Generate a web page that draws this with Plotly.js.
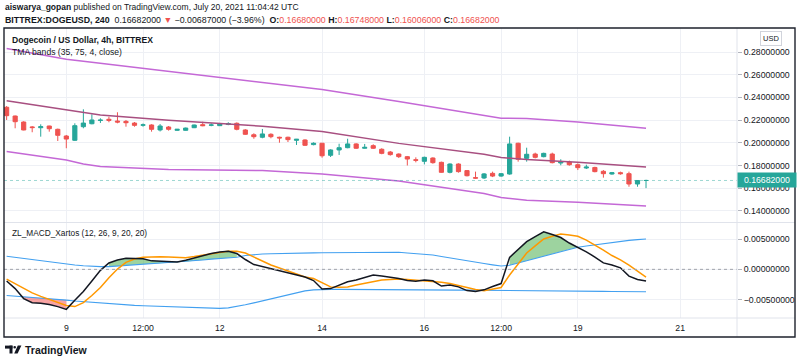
<!DOCTYPE html>
<html><head><meta charset="utf-8">
<script src="https://cdn.plot.ly/plotly-3.0.1.min.js"></script>
<style>html,body{margin:0;padding:0;background:#fff;}#chart{width:800px;height:362px;}</style>
</head><body><div id="chart"></div>
<script>
// ---------- DATA ----------
const times = [
'2021-07-07 20:00',
'2021-07-08 00:00','2021-07-08 04:00','2021-07-08 08:00','2021-07-08 12:00','2021-07-08 16:00','2021-07-08 20:00',
'2021-07-09 00:00','2021-07-09 04:00','2021-07-09 08:00','2021-07-09 12:00','2021-07-09 16:00','2021-07-09 20:00',
'2021-07-10 00:00','2021-07-10 04:00','2021-07-10 08:00','2021-07-10 12:00','2021-07-10 16:00','2021-07-10 20:00',
'2021-07-11 00:00','2021-07-11 04:00','2021-07-11 08:00','2021-07-11 12:00','2021-07-11 16:00','2021-07-11 20:00',
'2021-07-12 00:00','2021-07-12 04:00','2021-07-12 08:00','2021-07-12 12:00','2021-07-12 16:00','2021-07-12 20:00',
'2021-07-13 00:00','2021-07-13 04:00','2021-07-13 08:00','2021-07-13 12:00','2021-07-13 16:00','2021-07-13 20:00',
'2021-07-14 00:00','2021-07-14 04:00','2021-07-14 08:00','2021-07-14 12:00','2021-07-14 16:00','2021-07-14 20:00',
'2021-07-15 00:00','2021-07-15 04:00','2021-07-15 08:00','2021-07-15 12:00','2021-07-15 16:00','2021-07-15 20:00',
'2021-07-16 00:00','2021-07-16 04:00','2021-07-16 08:00','2021-07-16 12:00','2021-07-16 16:00','2021-07-16 20:00',
'2021-07-17 00:00','2021-07-17 04:00','2021-07-17 08:00','2021-07-17 12:00','2021-07-17 16:00','2021-07-17 20:00',
'2021-07-18 00:00','2021-07-18 04:00','2021-07-18 08:00','2021-07-18 12:00','2021-07-18 16:00','2021-07-18 20:00',
'2021-07-19 00:00','2021-07-19 04:00','2021-07-19 08:00','2021-07-19 12:00','2021-07-19 16:00','2021-07-19 20:00',
'2021-07-20 00:00','2021-07-20 04:00','2021-07-20 08:00'];

const openP = [0.2313,0.2236,0.2183,0.2140,0.2133,0.2148,0.2119,0.2060,0.2022,0.2142,
0.2168,0.2197,0.2207,0.2192,0.2189,0.2174,0.2155,0.2157,0.2113,0.2139,
0.2110,0.2110,0.2133,0.2160,0.2155,0.2151,0.2161,0.2172,0.2113,0.2071,
0.2049,0.2075,0.2049,0.2049,0.2022,0.2025,0.1984,0.1996,0.1890,0.1937,
0.1957,0.1990,0.1952,0.1975,0.1943,0.1919,0.1901,0.1878,0.1851,0.1837,
0.1866,0.1828,0.1740,0.1813,0.1755,0.1693,0.1690,0.1731,0.1707,0.1725,
0.1996,0.1863,0.1901,0.1878,0.1901,0.1822,0.1831,0.1807,0.1778,0.1783,
0.1749,0.1725,0.1737,0.1728,0.1637,0.16680];
const highP = [0.2324,0.2240,0.2190,0.2148,0.2163,0.2150,0.2125,0.2069,0.2172,0.2295,
0.2251,0.2216,0.2230,0.2269,0.2201,0.2183,0.2170,0.2163,0.2165,0.2148,
0.2122,0.2134,0.2160,0.2186,0.2172,0.2175,0.2181,0.2180,0.2120,0.2084,
0.2122,0.2084,0.2054,0.2054,0.2034,0.2031,0.2004,0.1999,0.1943,0.1992,
0.2036,0.1996,0.1990,0.1987,0.1952,0.1928,0.1907,0.1884,0.1872,0.1878,
0.1872,0.1834,0.1819,0.1819,0.1760,0.1746,0.1734,0.1746,0.1734,0.2054,
0.2001,0.1957,0.1913,0.1913,0.1913,0.1855,0.1843,0.1819,0.1807,0.1789,
0.1760,0.1743,0.1746,0.1746,0.1672,0.16748];
const lowP = [0.2201,0.2128,0.2110,0.2093,0.2054,0.2098,0.2016,0.1952,0.2016,0.2128,
0.2163,0.2175,0.2181,0.2172,0.2142,0.2142,0.2142,0.2098,0.2100,0.2107,
0.2105,0.2107,0.2130,0.2146,0.2146,0.2148,0.2155,0.2110,0.2070,0.2036,
0.2040,0.2040,0.2001,0.2007,0.1981,0.1972,0.1978,0.1869,0.1875,0.1893,
0.1952,0.1946,0.1949,0.1946,0.1899,0.1887,0.1866,0.1800,0.1828,0.1810,
0.1816,0.1737,0.1731,0.1737,0.1704,0.1684,0.1681,0.1698,0.1701,0.1719,
0.1834,0.1834,0.1863,0.1872,0.1819,0.1802,0.1798,0.1760,0.1769,0.1740,
0.1693,0.1719,0.1719,0.1613,0.1613,0.16006];
const closeP = [0.2239,0.2186,0.2113,0.2134,0.2142,0.2124,0.2066,0.2033,0.2151,0.2174,
0.2201,0.2200,0.2198,0.2183,0.2177,0.2154,0.2158,0.2119,0.2148,0.2119,
0.2119,0.2130,0.2157,0.2151,0.2157,0.2169,0.2169,0.2119,0.2075,0.2054,
0.2078,0.2054,0.2043,0.2028,0.2031,0.1978,0.1996,0.1886,0.1937,0.1957,
0.1990,0.1952,0.1960,0.1952,0.1907,0.1896,0.1878,0.1857,0.1846,0.1872,
0.1825,0.1740,0.1813,0.1746,0.1710,0.1689,0.1726,0.1707,0.1728,0.1990,
0.1855,0.1899,0.1872,0.1907,0.1825,0.1831,0.1807,0.1781,0.1786,0.1746,
0.1728,0.1737,0.1728,0.1637,0.1668,0.16682];

const bandTimes = ['2021-07-07 20:00','2021-07-09 00:00','2021-07-09 08:00','2021-07-09 16:00','2021-07-11 00:00',
'2021-07-12 20:00','2021-07-14 00:00','2021-07-15 12:00','2021-07-17 04:00','2021-07-17 12:00',
'2021-07-18 00:00','2021-07-19 00:00','2021-07-20 08:00'];
const tmaUpper = [0.2830,0.2736,0.2719,0.2701,0.2630,0.2530,0.2470,0.2364,0.2241,0.2216,0.2214,0.2183,0.2128];
const tmaMid   = [0.2371,0.2295,0.2271,0.2245,0.2198,0.2146,0.2100,0.1995,0.1900,0.1870,0.1852,0.1828,0.1787];
const tmaLower = [0.1923,0.1849,0.1813,0.1791,0.1765,0.1756,0.1725,0.1664,0.1553,0.1518,0.1494,0.1476,0.1443];

const macdLine = [-0.00193,-0.00317,-0.00482,-0.00551,-0.00559,-0.00578,-0.00614,-0.00660,-0.00510,-0.00366,
-0.00193,-0.00017,0.00104,0.00153,0.00182,0.00183,0.00173,0.00140,0.00132,0.00122,
0.00122,0.00150,0.00190,0.00229,0.00261,0.00285,0.00299,0.00261,0.00162,0.00079,
0.00046,0.00013,-0.00028,-0.00061,-0.00086,-0.00127,-0.00185,-0.00325,-0.00317,-0.00267,
-0.00205,-0.00177,-0.00140,-0.00094,-0.00111,-0.00130,-0.00152,-0.00185,-0.00198,-0.00177,
-0.00188,-0.00276,-0.00259,-0.00289,-0.00350,-0.00366,-0.00338,-0.00284,-0.00234,0.00198,
0.00335,0.00457,0.00541,0.00619,0.00574,0.00525,0.00434,0.00368,0.00289,0.00203,
0.00107,0.00071,0.00025,-0.00111,-0.00168,-0.00193];
const signalLine = [-0.00160,-0.00233,-0.00309,-0.00388,-0.00446,-0.00498,-0.00548,-0.00597,-0.00614,-0.00548,
-0.00432,-0.00300,-0.00140,0.00005,0.00116,0.00170,0.00200,0.00206,0.00206,0.00203,
0.00196,0.00191,0.00210,0.00236,0.00259,0.00277,0.00299,0.00299,0.00269,0.00203,
0.00132,0.00071,0.00021,-0.00031,-0.00078,-0.00127,-0.00152,-0.00221,-0.00289,-0.00297,
-0.00292,-0.00259,-0.00229,-0.00200,-0.00177,-0.00168,-0.00160,-0.00168,-0.00178,-0.00185,
-0.00193,-0.00213,-0.00233,-0.00269,-0.00305,-0.00332,-0.00351,-0.00327,-0.00300,-0.00094,
0.00096,0.00269,0.00388,0.00500,0.00545,0.00582,0.00566,0.00545,0.00483,0.00406,
0.00318,0.00228,0.00157,0.00071,-0.00028,-0.00127];
const macdUpper = [0.00216,0.00198,0.00177,0.00157,0.00137,0.00117,0.00101,0.00084,0.00071,0.00059,
0.00050,0.00045,0.00045,0.00054,0.00068,0.00081,0.00090,0.00100,0.00108,0.00114,
0.00117,0.00125,0.00140,0.00155,0.00168,0.00180,0.00190,0.00200,0.00228,0.00244,
0.00252,0.00257,0.00262,0.00266,0.00269,0.00271,0.00272,0.00274,0.00276,0.00277,
0.00279,0.00282,0.00285,0.00287,0.00289,0.00290,0.00282,0.00269,0.00259,0.00248,
0.00236,0.00211,0.00186,0.00163,0.00142,0.00120,0.00097,0.00074,0.00054,0.00068,
0.00106,0.00144,0.00180,0.00219,0.00256,0.00294,0.00330,0.00365,0.00384,0.00404,
0.00424,0.00442,0.00460,0.00477,0.00490,0.00500];
const macdLower = [-0.00431,-0.00441,-0.00450,-0.00460,-0.00472,-0.00483,-0.00495,-0.00507,-0.00522,-0.00533,
-0.00546,-0.00559,-0.00571,-0.00579,-0.00587,-0.00594,-0.00601,-0.00607,-0.00612,-0.00619,
-0.00624,-0.00629,-0.00634,-0.00639,-0.00642,-0.00644,-0.00635,-0.00615,-0.00584,-0.00553,
-0.00520,-0.00485,-0.00450,-0.00413,-0.00380,-0.00355,-0.00338,-0.00330,-0.00330,-0.00330,
-0.00330,-0.00330,-0.00330,-0.00330,-0.00330,-0.00330,-0.00330,-0.00332,-0.00333,-0.00335,
-0.00337,-0.00338,-0.00340,-0.00342,-0.00343,-0.00345,-0.00347,-0.00348,-0.00350,-0.00351,
-0.00352,-0.00353,-0.00354,-0.00355,-0.00356,-0.00357,-0.00358,-0.00360,-0.00361,-0.00362,
-0.00363,-0.00364,-0.00366,-0.00367,-0.00369,-0.00370];

const xTickVals = ['2021-07-09 00:00','2021-07-10 12:00','2021-07-12 00:00','2021-07-14 00:00',
                   '2021-07-16 00:00','2021-07-17 12:00','2021-07-19 00:00','2021-07-21 00:00'];
const xTickText = ['9','12:00','12','14','16','12:00','19','21'];
const priceTicks = [0.14,0.16,0.18,0.20,0.22,0.24,0.26,0.28];
const macdTicks = [-0.005,0,0.005];
const changeAbs = -0.00687, changePct = -3.96;

// ---------- BUILD ----------
const UP = '#26a69a', DN = '#ef5350', INK = '#131722';
const FONT = 'Liberation Sans, Arial, sans-serif';
const n = times.length;
const last = n - 1;
// pixel -> paper helpers (plot area: x 4..737, y 28..318)
const px = x => (x - 4) / 733;
const py = y => (318 - y) / 290;
const f8 = v => (v < 0 ? '\u2212' : '') + Math.abs(v).toFixed(8);

const traces = [];
traces.push({type:'scatter', mode:'lines', x:bandTimes, y:tmaUpper, xaxis:'x', yaxis:'y',
  line:{color:'#c468d6', width:1.5}, hoverinfo:'skip'});
traces.push({type:'scatter', mode:'lines', x:bandTimes, y:tmaLower, xaxis:'x', yaxis:'y',
  line:{color:'#c468d6', width:1.5}, hoverinfo:'skip'});
traces.push({type:'scatter', mode:'lines', x:bandTimes, y:tmaMid, xaxis:'x', yaxis:'y',
  line:{color:'#a84f80', width:1.5}, hoverinfo:'skip'});
traces.push({type:'candlestick', x:times, open:openP, high:highP, low:lowP, close:closeP,
  xaxis:'x', yaxis:'y', whiskerwidth:0, hoverinfo:'skip',
  increasing:{line:{color:UP, width:1}, fillcolor:UP},
  decreasing:{line:{color:DN, width:1}, fillcolor:DN}});

function runs(cond){
  const out=[]; let s=-1;
  for(let i=0;i<n;i++){
    if(cond(i)){ if(s<0) s=i; }
    else if(s>=0){ out.push([s,i-1]); s=-1; }
  }
  if(s>=0) out.push([s,n-1]);
  return out.filter(r => r[1] > r[0]);
}
function fillTrace(a,b,band,color){
  const xs = times.slice(a,b+1), ys = macdLine.slice(a,b+1);
  return {type:'scatter', mode:'lines', xaxis:'x', yaxis:'y2', hoverinfo:'skip',
    x: xs.concat(xs.slice().reverse()),
    y: ys.concat(band.slice(a,b+1).reverse()),
    fill:'toself', fillcolor:color, line:{width:0}};
}
runs(i => macdLine[i] > macdUpper[i]).forEach(r => traces.push(fillTrace(r[0],r[1],macdUpper,'rgba(76,175,80,0.55)')));
runs(i => macdLine[i] < macdLower[i]).forEach(r => traces.push(fillTrace(r[0],r[1],macdLower,'rgba(242,72,72,0.5)')));

traces.push({type:'scatter', mode:'lines', x:times, y:macdUpper, xaxis:'x', yaxis:'y2',
  line:{color:'#42a0f0', width:1.1}, hoverinfo:'skip'});
traces.push({type:'scatter', mode:'lines', x:times, y:macdLower, xaxis:'x', yaxis:'y2',
  line:{color:'#42a0f0', width:1.1}, hoverinfo:'skip'});
traces.push({type:'scatter', mode:'lines', x:times, y:signalLine, xaxis:'x', yaxis:'y2',
  line:{color:'#ff9800', width:1.5}, hoverinfo:'skip'});
traces.push({type:'scatter', mode:'lines', x:times, y:macdLine, xaxis:'x', yaxis:'y2',
  line:{color:INK, width:1.5}, hoverinfo:'skip'});

const gridC = '#eef0f5';
const tickFont = {family:FONT, size:8.7, color:INK};

const shapes = [
  {type:'line', xref:'paper', yref:'y', x0:0, x1:1, y0:closeP[last], y1:closeP[last],
   line:{color:'rgba(38,166,154,0.45)', width:1, dash:'3px,3px'}},
  {type:'line', xref:'paper', yref:'y2', x0:0, x1:1, y0:0, y1:0,
   line:{color:'#a0a3ab', width:1, dash:'3px,3px'}},
  {type:'line', xref:'paper', yref:'paper', x0:px(737), x1:px(737), y0:py(337), y1:py(28), line:{color:'#e0e3eb', width:1}},
  {type:'line', xref:'paper', yref:'paper', x0:px(4), x1:px(795), y0:py(222.5), y1:py(222.5), line:{color:'#e0e3eb', width:1}},
  {type:'line', xref:'paper', yref:'paper', x0:px(4), x1:px(795), y0:py(318), y1:py(318), line:{color:'#e0e3eb', width:1}},
  {type:'rect', xref:'paper', yref:'paper', x0:px(4), x1:px(795), y0:py(337), y1:py(28), line:{color:'#1e222d', width:1.4}},
  {type:'rect', xref:'paper', yref:'paper', x0:px(5), x1:px(12.5), y0:py(348.6), y1:py(345.6), fillcolor:INK, line:{width:0}},
  {type:'rect', xref:'paper', yref:'paper', x0:px(9.5), x1:px(12.5), y0:py(353.5), y1:py(345.6), fillcolor:INK, line:{width:0}},
  {type:'circle', xref:'paper', yref:'paper', x0:px(13.4), x1:px(16.0), y0:py(348.6), y1:py(346.0), fillcolor:INK, line:{width:0}},
  {type:'path', xref:'paper', yref:'paper', fillcolor:INK, line:{width:0},
   path:`M ${px(17.8)} ${py(345.6)} L ${px(21.4)} ${py(345.6)} L ${px(17.6)} ${py(353.5)} L ${px(14.2)} ${py(353.5)} Z`}
];

const red = s => `<span style="color:${DN}">${s}</span>`;
const annotations = [
  {xref:'paper', yref:'paper', x:px(3), y:py(7.5), xanchor:'left', yanchor:'middle', showarrow:false,
   font:{family:FONT, size:8.5, color:INK},
   text:'<b>aiswarya_gopan</b> published on TradingView.com, July 20, 2021 11:04:42 UTC'},
  {xref:'paper', yref:'paper', x:px(3), y:py(20), xanchor:'left', yanchor:'middle', showarrow:false,
   font:{family:FONT, size:8.8, color:INK},
   text:`<b>BITTREX:DOGEUSD, 240</b>  ${closeP[last].toFixed(8)} ${red('\u25BC')} ${f8(changeAbs)} (\u2212${Math.abs(changePct).toFixed(2)}%)  <b>O:</b>${red(openP[last].toFixed(8))} <b>H:</b>${red(highP[last].toFixed(8))} <b>L:</b>${red(lowP[last].toFixed(8))} <b>C:</b>${red(closeP[last].toFixed(8))}`},
  {xref:'paper', yref:'paper', x:px(10), y:py(40), xanchor:'left', yanchor:'middle', showarrow:false,
   font:{family:FONT, size:8.6, color:INK}, text:'<b>Dogecoin / US Dollar, 4h, BITTREX</b>'},
  {xref:'paper', yref:'paper', x:px(10), y:py(52), xanchor:'left', yanchor:'middle', showarrow:false,
   font:{family:FONT, size:8.6, color:INK}, text:'TMA bands (35, 75, 4, close)'},
  {xref:'paper', yref:'paper', x:px(10), y:py(233), xanchor:'left', yanchor:'middle', showarrow:false,
   font:{family:FONT, size:8.3, color:INK}, text:'ZL_MACD_Xartos (12, 26, 9, 20, 20)'},
  {xref:'paper', yref:'paper', x:px(771), y:py(39), xanchor:'center', yanchor:'middle', showarrow:false,
   font:{family:FONT, size:7.5, color:INK}, text:'USD', bgcolor:'#fff', bordercolor:'#d1d4dc', borderwidth:1, borderpad:2},
  {xref:'paper', yref:'y', x:px(737), y:closeP[last], xanchor:'left', yanchor:'middle', showarrow:false,
   font:{family:FONT, size:8.7, color:'#fff'}, text:closeP[last].toFixed(8), bgcolor:UP,
   width:54, height:10, borderpad:2, align:'center'},
  {xref:'paper', yref:'paper', x:px(23), y:py(349.5), xanchor:'left', yanchor:'middle', showarrow:false,
   font:{family:FONT, size:10.5, color:INK}, text:'<b>TradingView</b>'}
];

const layout = {
  width:800, height:362, paper_bgcolor:'#fff', plot_bgcolor:'#fff',
  margin:{l:4, r:63, t:28, b:44, pad:0}, showlegend:false,
  font:{family:FONT, color:INK},
  xaxis:{type:'date', anchor:'y2', range:['2021-07-07 18:46','2021-07-22 02:41'],
    tickmode:'array', tickvals:xTickVals, ticktext:xTickText, tickfont:tickFont, ticklabelstandoff:3,
    showgrid:true, gridcolor:gridC, gridwidth:1, zeroline:false, showline:false, ticks:'',
    rangeslider:{visible:false}, fixedrange:true},
  yaxis:{domain:[0.331,1], anchor:'x', side:'right', range:[0.13022,0.30115],
    tickmode:'array', tickvals:priceTicks, ticktext:priceTicks.map(v=>v.toFixed(8)), tickfont:tickFont,
    showgrid:true, gridcolor:gridC, zeroline:false, showline:false,
    ticks:'outside', ticklen:4, tickcolor:'#b2b5be', fixedrange:true},
  yaxis2:{domain:[0,0.3276], anchor:'x', side:'right', range:[-0.00802,0.00764],
    tickmode:'array', tickvals:macdTicks, ticktext:macdTicks.map(f8), tickfont:tickFont,
    showgrid:true, gridcolor:gridC, zeroline:false, showline:false,
    ticks:'outside', ticklen:4, tickcolor:'#b2b5be', fixedrange:true},
  shapes, annotations
};

Plotly.newPlot('chart', traces, layout, {staticPlot:true, displayModeBar:false});
</script></body></html>
